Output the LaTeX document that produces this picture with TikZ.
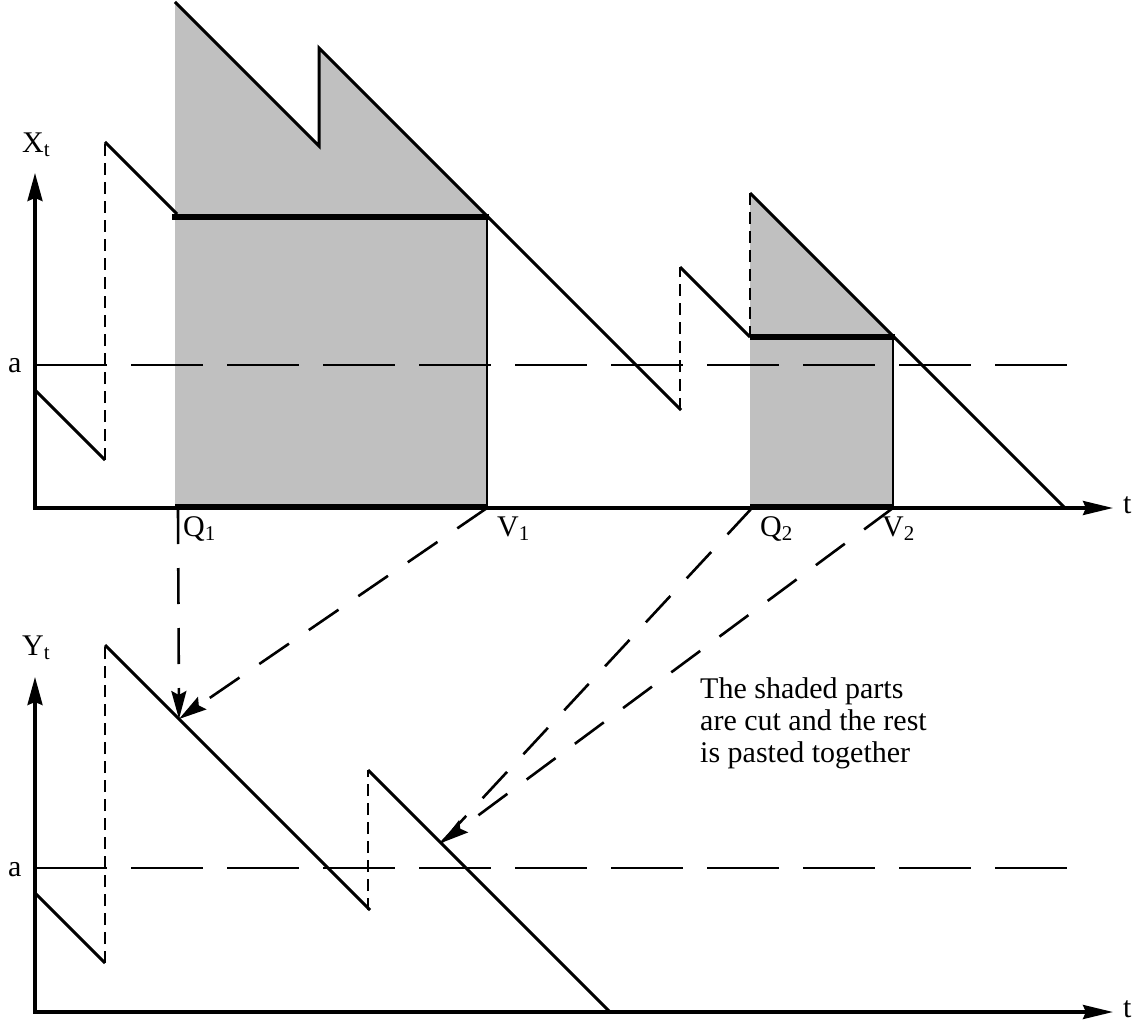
\documentclass[tikz,border=0pt]{standalone}
\usepackage{fontspec}
\setmainfont{Liberation Serif}
\usetikzlibrary{arrows.meta}
\definecolor{shadegray}{RGB}{192,192,192}
\newcommand\lsub[1]{\raisebox{-4pt}{\fontsize{21}{21}\selectfont #1}}
\begin{document}
\begin{tikzpicture}[x=1pt,y=-1pt,
  lbl/.style={font=\fontsize{30}{32}\selectfont, inner sep=0pt, anchor=base west},
  curve/.style={line width=3pt},
  jump/.style={line width=2.6pt, dash pattern=on 12pt off 7pt},
  level/.style={line width=2.6pt, dash pattern=on 72pt off 24pt},
  cutline/.style={line width=5.5pt},
  rim/.style={line width=2.3pt},
  axis/.style={line width=3.2pt, {Stealth[length=28pt,width=15pt,inset=3pt]}-{Stealth[length=30pt,width=14pt,inset=3pt]}},
  map/.style={line width=2.6pt, dash pattern=on 36pt off 24pt},
  maptip/.style={-{Stealth[length=28pt,width=15pt,inset=4pt]}}
]
\useasboundingbox (0,0) rectangle (1135,1024);

% ---------- top plot ----------
\fill[shadegray] (175,505) -- (175,2) -- (319,146) -- (319,48) -- (487,216) -- (487,505) -- cycle;
\fill[shadegray] (750,505) -- (750,193) -- (893,336) -- (893,505) -- cycle;
\draw[line width=1.5pt] (175,505) -- (487,505);
\draw[line width=1.5pt] (750,505) -- (893,505);

\draw[level] (35,365) -- (1067,365);

\draw[curve] (35,390) -- (105,460);
\draw[jump] (105,460) -- (105,142);
\draw[curve] (105,142) -- (177,214);
\draw[curve] (175,2) -- (319,146) -- (319,48) -- (487,216) -- (681,410);
\draw[jump] (680,410) -- (680,267);
\draw[curve] (680,267) -- (750,337);
\draw[jump] (750,193) -- (750,337);
\draw[curve] (750,193) -- (1065,508);

\draw[cutline] (172,217) -- (489,217);
\draw[cutline] (750,337) -- (895,337);
\draw[rim] (487,217) -- (487,508);
\draw[rim] (893,337) -- (893,508);

\draw[axis] (35,173) -- (35,508) -- (1113,508);

\node[lbl] (Xt) at (22,153) {X\lsub{t}};
\node[lbl] (a1) at (8,372) {a};
\node[lbl] (t1) at (1123,513) {t};
\node[lbl] (Q1) at (183,536) {Q\lsub{1}};
\node[lbl] (V1) at (497,536) {V\lsub{1}};
\node[lbl] (Q2) at (760,536) {Q\lsub{2}};
\node[lbl] (V2) at (882,536) {V\lsub{2}};

% ---------- bottom plot ----------
\draw[level] (35,868) -- (1067,868);
\draw[curve] (35,893) -- (105,963);
\draw[jump] (105,963) -- (105,645);
\draw[curve] (105,645) -- (370,910);
\draw[jump] (368,910) -- (368,770);
\draw[curve] (368,770) -- (610,1012);

\draw[axis] (35,677) -- (35,1012) -- (1113,1012);

\node[lbl] (Yt) at (22,655) {Y\lsub{t}};
\node[lbl] (a2) at (8,876) {a};
\node[lbl] (t2) at (1123,1017) {t};

\node[font=\fontsize{30}{32}\selectfont, inner sep=0pt, anchor=north west, align=left] (note) at (700,677)
  {The shaded parts\\are cut and the rest\\is pasted together};

% ---------- mapping arrows ----------
\coordinate (q1) at (178,508);
\coordinate (v1) at (487,508);
\coordinate (q2) at (752,508);
\coordinate (v2) at (893,508);
\coordinate (T1) at (179,719);
\coordinate (T2) at (441,843);

\draw[map, maptip] (q1) -- (T1);
\draw[map, maptip] (v1) -- (T1);
\draw[map] (q2) -- (T2);
\draw[map, maptip] (v2) -- (T2);
\end{tikzpicture}
\end{document}
